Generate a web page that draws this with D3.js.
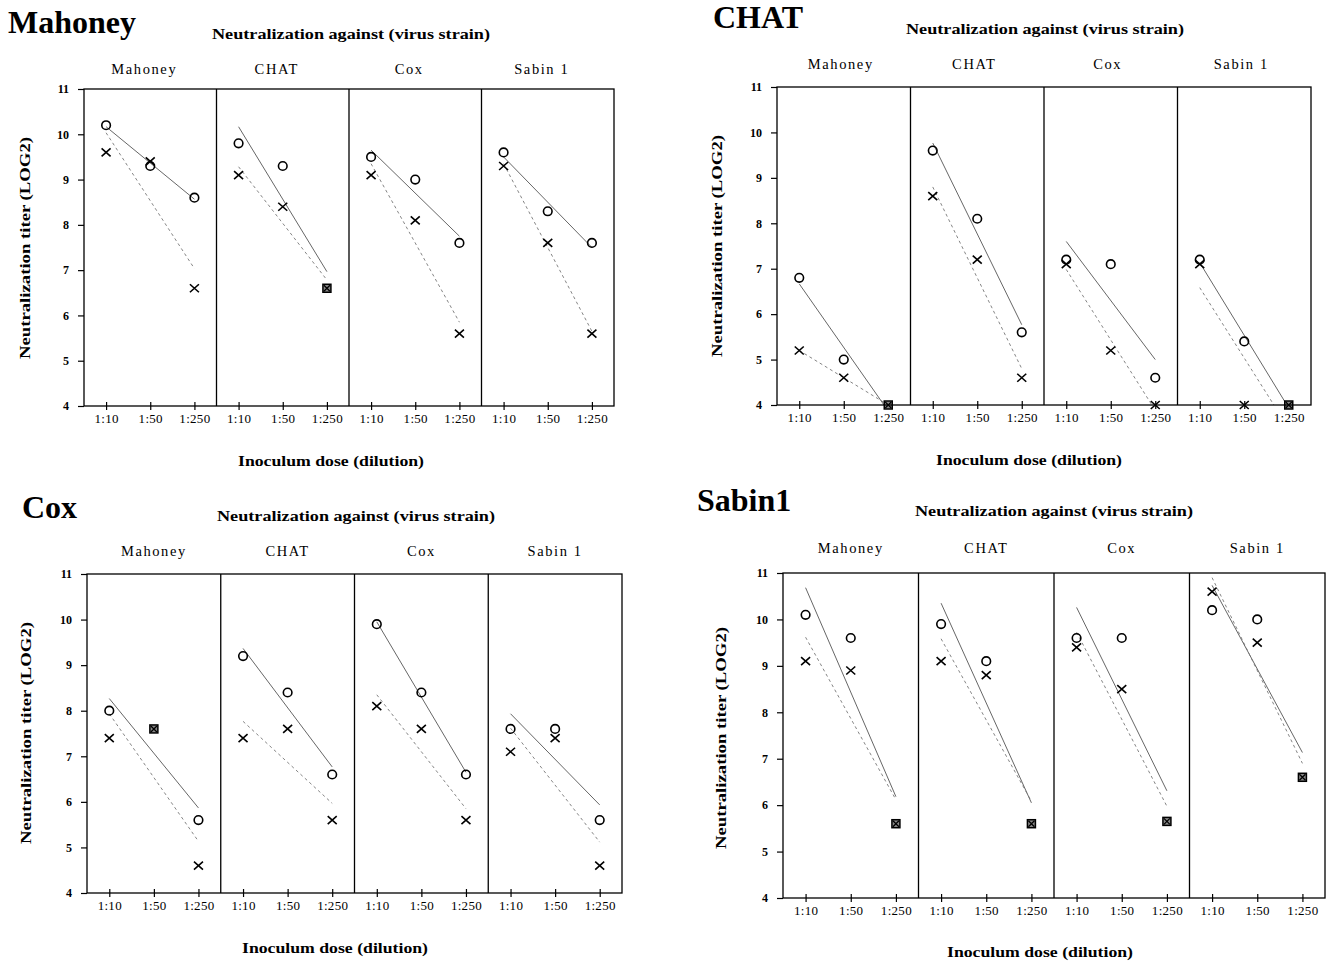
<!DOCTYPE html>
<html><head><meta charset="utf-8">
<script src="https://cdn.jsdelivr.net/npm/d3@7"></script>
<style>
body{margin:0;background:#fff}
text{font-family:"Liberation Serif","Times New Roman",serif;fill:#000}
</style>
</head><body><svg id="c" width="1329" height="962"></svg>
<script>
// ---- data ----
const immunizingStrains = ["Mahoney", "CHAT", "Cox", "Sabin1"];
const testStrains = ["Mahoney", "CHAT", "Cox", "Sabin 1"];
const doses = ["1:10", "1:50", "1:250"];
const yTicks = [4, 5, 6, 7, 8, 9, 10, 11];
const subtitle = "Neutralization against (virus strain)";
const yTitle = "Neutralization titer (LOG2)";
const xTitle = "Inoculum dose (dilution)";

// circle series (o) and cross series (x); rows = test strain, cols = dose
const mahoneyCircle = [[10.2, 9.3, 8.6], [9.8, 9.3, 6.6], [9.5, 9.0, 7.6], [9.6, 8.3, 7.6]];
const mahoneyCross  = [[9.6, 9.4, 6.6], [9.1, 8.4, 6.6], [9.1, 8.1, 5.6], [9.3, 7.6, 5.6]];
const chatCircle    = [[6.8, 5.0, 4.0], [9.6, 8.1, 5.6], [7.2, 7.1, 4.6], [7.2, 5.4, 4.0]];
const chatCross     = [[5.2, 4.6, 4.0], [8.6, 7.2, 4.6], [7.1, 5.2, 4.0], [7.1, 4.0, 4.0]];
const coxCircle     = [[8.0, 7.6, 5.6], [9.2, 8.4, 6.6], [9.9, 8.4, 6.6], [7.6, 7.6, 5.6]];
const coxCross      = [[7.4, 7.6, 4.6], [7.4, 7.6, 5.6], [8.1, 7.6, 5.6], [7.1, 7.4, 4.6]];
const sabinCircle   = [[10.1, 9.6, 5.6], [9.9, 9.1, 5.6], [9.6, 9.6, 5.65], [10.2, 10.0, 6.6]];
const sabinCross    = [[9.1, 8.9, 5.6], [9.1, 8.8, 5.6], [9.4, 8.5, 5.65], [10.6, 9.5, 6.6]];

const circleSeries = [mahoneyCircle, chatCircle, coxCircle, sabinCircle];
const crossSeries = [mahoneyCross, chatCross, coxCross, sabinCross];

// ---- layout ----
const layouts = [
  {left: 84, right: 614, top: 89, bottom: 406, titleX: 8, titleY: 33, subX: 351, subY: 39, headY: 74, headDx: -6, yLabX: 30, yLabY: 248, xTitX: 331, xTitY: 466},
  {left: 777, right: 1311, top: 87, bottom: 405, titleX: 713, titleY: 28, subX: 1045, subY: 34, headY: 69, headDx: -3, yLabX: 722, yLabY: 246, xTitX: 1029, xTitY: 465},
  {left: 87, right: 622, top: 574, bottom: 893, titleX: 22, titleY: 518, subX: 356, subY: 521, headY: 556, headDx: 0, yLabX: 31, yLabY: 733, xTitX: 335, xTitY: 953},
  {left: 783, right: 1325, top: 573, bottom: 898, titleX: 697, titleY: 511, subX: 1054, subY: 516, headY: 553, headDx: 0, yLabX: 726, yLabY: 738, xTitX: 1040, xTitY: 957}
];

const svg = d3.select("#c");
const defs = svg.append("defs");

function regression(vals) {
  const xs = [0, 1, 2];
  const mx = d3.mean(xs), my = d3.mean(vals);
  const slope = d3.sum(xs, (x, i) => (x - mx) * (vals[i] - my)) / d3.sum(xs, x => (x - mx) * (x - mx));
  return [my - slope * mx, my + slope * (2 - mx)];
}

layouts.forEach((L, q) => {
  const g = svg.append("g");
  const y = d3.scaleLinear().domain([4, 11]).range([L.bottom, L.top]);
  const pw = (L.right - L.left) / 4;

  // titles
  g.append("text").attr("x", L.titleX).attr("y", L.titleY)
    .attr("font-size", 32).attr("font-weight", "bold").text(immunizingStrains[q]);
  g.append("text").attr("x", L.subX).attr("y", L.subY).attr("text-anchor", "middle")
    .attr("font-size", 14.5).attr("font-weight", "bold")
    .attr("textLength", 278).attr("lengthAdjust", "spacingAndGlyphs").text(subtitle);
  g.append("text").attr("transform", `translate(${L.yLabX},${L.yLabY}) rotate(-90)`)
    .attr("text-anchor", "middle").attr("font-size", 15).attr("font-weight", "bold")
    .attr("textLength", 222).attr("lengthAdjust", "spacingAndGlyphs").text(yTitle);
  g.append("text").attr("x", L.xTitX).attr("y", L.xTitY).attr("text-anchor", "middle")
    .attr("font-size", 14.5).attr("font-weight", "bold")
    .attr("textLength", 186).attr("lengthAdjust", "spacingAndGlyphs").text(xTitle);

  // y axis
  const ya = g.append("g").attr("transform", `translate(${L.left},0)`)
    .call(d3.axisLeft(y).tickValues(yTicks).tickFormat(d3.format("d")).tickSize(6).tickPadding(9));
  ya.select(".domain").remove();
  ya.selectAll("text").attr("font-size", 12).attr("font-weight", "bold");
  ya.selectAll("line").attr("stroke", "#000").attr("stroke-width", 1.2);

  testStrains.forEach((s, p) => {
    const pl = L.left + p * pw;
    const x = d3.scalePoint().domain(doses).range([pl, pl + pw]).padding(0.5);

    // column header
    g.append("text").attr("x", pl + pw / 2 + L.headDx).attr("y", L.headY)
      .attr("text-anchor", "middle").attr("font-size", 14.5).attr("letter-spacing", 1.6)
      .text(s);

    // x axis
    const xa = g.append("g").attr("transform", `translate(0,${L.bottom})`)
      .call(d3.axisBottom(x).tickSize(4).tickPadding(4));
    xa.select(".domain").remove();
    xa.selectAll("line").attr("y1", -4).attr("y2", 4).attr("stroke", "#000").attr("stroke-width", 1.2);
    xa.selectAll("text").attr("font-size", 13).attr("letter-spacing", 0.3);

    // clip
    const cid = `clip-${q}-${p}`;
    defs.append("clipPath").attr("id", cid).append("rect")
      .attr("x", pl).attr("y", L.top).attr("width", pw).attr("height", L.bottom - L.top);

    const cVals = circleSeries[q][p];
    const xVals = crossSeries[q][p];

    const lg = g.append("g").attr("clip-path", `url(#${cid})`);
    const rc = regression(cVals), rx = regression(xVals);
    lg.append("line").attr("x1", x(doses[0])).attr("x2", x(doses[2]))
      .attr("y1", y(rc[0])).attr("y2", y(rc[1]))
      .attr("stroke", "#555").attr("stroke-width", 0.9);
    lg.append("line").attr("x1", x(doses[0])).attr("x2", x(doses[2]))
      .attr("y1", y(rx[0])).attr("y2", y(rx[1]))
      .attr("stroke", "#777").attr("stroke-width", 0.9).attr("stroke-dasharray", "3,3");

    // markers
    doses.forEach((d, i) => {
      const cx = x(d);
      if (Math.abs(cVals[i] - xVals[i]) < 0.05) {
        const cy = y(cVals[i]);
        g.append("rect").attr("x", cx - 4).attr("y", cy - 4).attr("width", 8).attr("height", 8)
          .attr("fill", "#888").attr("stroke", "#000").attr("stroke-width", 1.5);
        g.append("path").attr("d", `M${cx-3},${cy-3}L${cx+3},${cy+3}M${cx-3},${cy+3}L${cx+3},${cy-3}`)
          .attr("stroke", "#000").attr("stroke-width", 1.3);
      } else {
        g.append("circle").attr("cx", cx).attr("cy", y(cVals[i])).attr("r", 4.3)
          .attr("fill", "none").attr("stroke", "#000").attr("stroke-width", 1.6);
        const cy = y(xVals[i]);
        g.append("path").attr("d", `M${cx-4.5},${cy-4}L${cx+4.5},${cy+4}M${cx-4.5},${cy+4}L${cx+4.5},${cy-4}`)
          .attr("stroke", "#000").attr("stroke-width", 1.6);
      }
    });

    if (p > 0) {
      g.append("line").attr("x1", pl).attr("x2", pl).attr("y1", L.top).attr("y2", L.bottom)
        .attr("stroke", "#000").attr("stroke-width", 1.3);
    }
  });

  // frame
  g.append("rect").attr("x", L.left).attr("y", L.top).attr("width", L.right - L.left)
    .attr("height", L.bottom - L.top).attr("fill", "none").attr("stroke", "#000").attr("stroke-width", 1.3);
});
</script>
</body></html>
